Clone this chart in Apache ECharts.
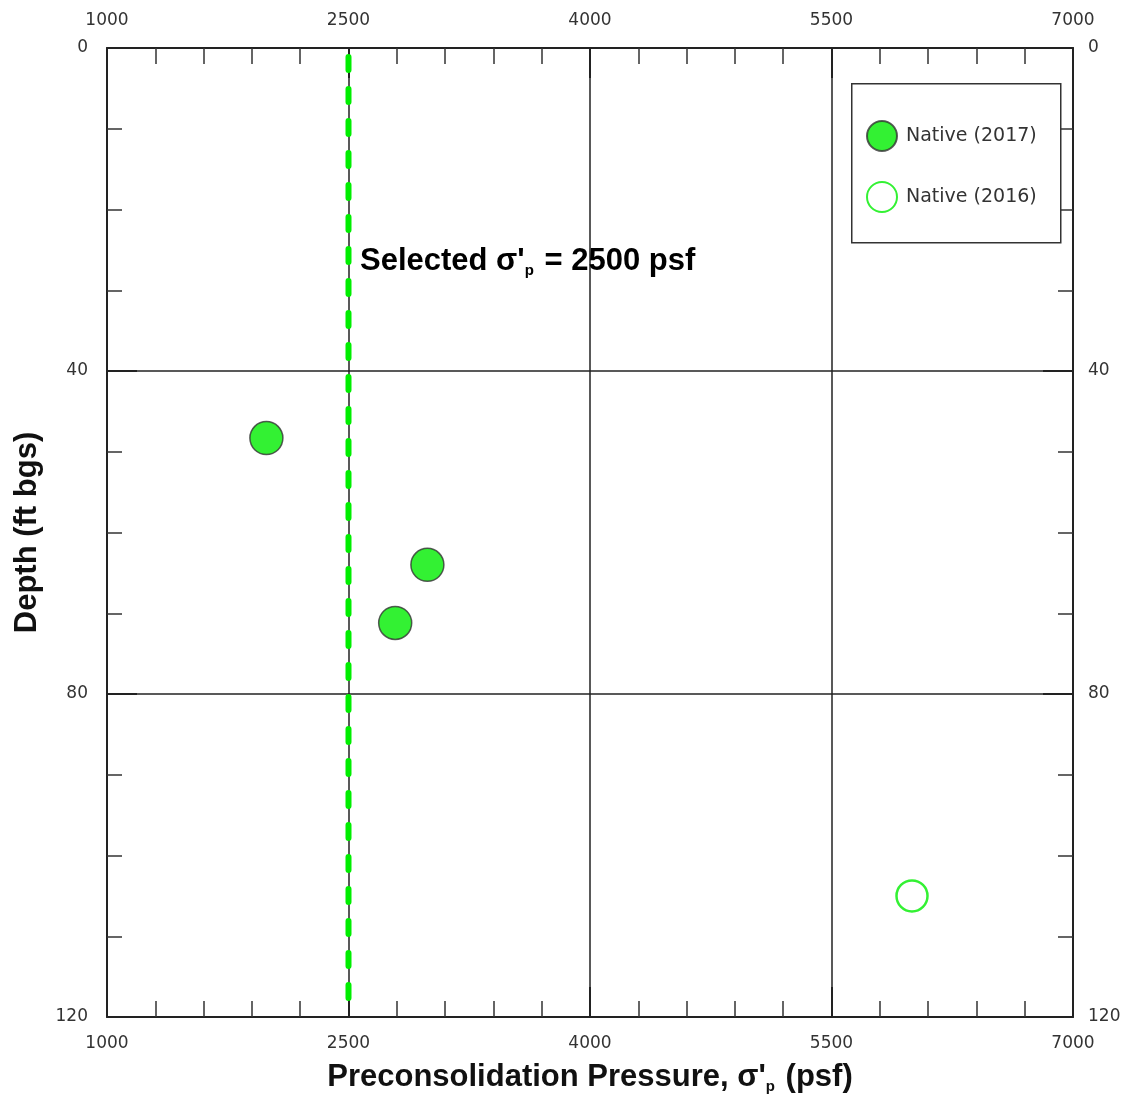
<!DOCTYPE html>
<html>
<head>
<meta charset="utf-8">
<script src="https://cdn.jsdelivr.net/npm/echarts@6/dist/echarts.min.js"></script>
<style>
  html, body { margin: 0; padding: 0; background: #ffffff; }
  #chart { width: 1128px; height: 1099px; }
</style>
</head>
<body>
<div id="chart"></div>
<script>
// Preconsolidation pressure (psf) against depth (ft bgs)
const native2017Pressure = [1990, 2990, 2790];
const native2017Depth = [48.3, 64.0, 71.2];
const native2016Pressure = [6000];
const native2016Depth = [105.0];

// Selected design value, drawn as a vertical dashed reference line
const selectedPressure = 2500;
const selectedDepthRange = [1.1, 119];

const pressureTicks = [1000, 2500, 4000, 5500, 7000];
const depthTicks = [0, 40, 80, 120];

const seriesNames = ['Native (2017)', 'Native (2016)'];

const GREEN = '#00ee00';
const LABEL_FONT = 'DejaVu Sans';
const TITLE_FONT = 'Liberation Sans';

const toPairs = (xs, ys) => xs.map((x, i) => [x, ys[i]]);
const plain = v => String(v);

const chart = echarts.init(document.getElementById('chart'), null, { renderer: 'canvas' });

const xCommon = {
  type: 'value',
  min: pressureTicks[0],
  max: pressureTicks[pressureTicks.length - 1],
  interval: pressureTicks[1] - pressureTicks[0],
  axisLine: { show: true, onZero: false, lineStyle: { color: '#222', width: 2 } },
  axisTick: { show: true, inside: true, length: 30, lineStyle: { color: '#222', width: 2 } },
  minorTick: { show: true, splitNumber: 5, length: 16, lineStyle: { color: '#333', width: 1.5 } },
  axisLabel: { fontFamily: LABEL_FONT, fontSize: 17, color: '#333', margin: 18, formatter: plain }
};

const yCommon = {
  type: 'value',
  inverse: true,
  min: depthTicks[0],
  max: depthTicks[depthTicks.length - 1],
  interval: depthTicks[1] - depthTicks[0],
  axisLine: { show: true, onZero: false, lineStyle: { color: '#222', width: 2 } },
  axisTick: { show: true, inside: true, length: 30, lineStyle: { color: '#222', width: 2 } },
  minorTick: { show: true, splitNumber: 4, length: 15, lineStyle: { color: '#333', width: 1.5 } },
  axisLabel: { fontFamily: LABEL_FONT, fontSize: 17, color: '#333', formatter: plain }
};

const subRich = {
  b: { fontFamily: TITLE_FONT, fontWeight: 'bold', fontSize: 31, color: '#111', lineHeight: 34 },
  s: { fontFamily: TITLE_FONT, fontWeight: 'bold', fontSize: 15, color: '#111', lineHeight: 34, verticalAlign: 'bottom', padding: [12, 2, 0, 0] }
};

const option = {
  backgroundColor: '#ffffff',
  animation: false,
  grid: { left: 107, right: 55, top: 48, bottom: 79, containLabel: false },
  xAxis: [
    Object.assign({}, xCommon, {
      position: 'bottom',
      splitLine: { show: true, lineStyle: { color: '#222', width: 1.5 } },
      name: "{b|Preconsolidation Pressure, σ'}{s|p}{b| (psf)}",
      nameLocation: 'middle',
      nameGap: 43,
      nameTextStyle: { rich: subRich }
    }),
    Object.assign({}, xCommon, {
      position: 'top',
      splitLine: { show: false },
      axisLabel: Object.assign({}, xCommon.axisLabel, { margin: 19 })
    })
  ],
  yAxis: [
    Object.assign({}, yCommon, {
      position: 'left',
      splitLine: { show: true, lineStyle: { color: '#222', width: 1.5 } },
      axisLabel: Object.assign({}, yCommon.axisLabel, { margin: 19 }),
      name: 'Depth (ft bgs)',
      nameLocation: 'middle',
      nameRotate: 90,
      nameGap: 64,
      nameTextStyle: { fontFamily: TITLE_FONT, fontWeight: 'bold', fontSize: 31, color: '#111' }
    }),
    Object.assign({}, yCommon, {
      position: 'right',
      splitLine: { show: false },
      axisLabel: Object.assign({}, yCommon.axisLabel, { margin: 15 })
    })
  ],
  legend: {
    show: true,
    z: 20,
    data: seriesNames,
    orient: 'vertical',
    left: 866,
    top: 120,
    padding: 0,
    itemWidth: 30,
    itemHeight: 30,
    itemGap: 29,
    icon: 'circle',
    textStyle: { fontFamily: LABEL_FONT, fontSize: 19, color: '#333', padding: [0, 0, 0, 4] }
  },
  graphic: [
    {
      type: 'rect',
      left: 851,
      top: 83,
      z: 1,
      shape: { width: 209, height: 159 },
      style: { fill: '#ffffff', stroke: '#333', lineWidth: 1.5 }
    },
    {
      type: 'text',
      left: 360,
      top: 246,
      z: 10,
      style: {
        text: "{b|Selected σ'}{s|p}{b| = 2500 psf}",
        rich: subRich
      }
    }
  ],
  series: [
    {
      name: 'Selected',
      type: 'line',
      xAxisIndex: 0,
      yAxisIndex: 0,
      symbol: 'none',
      data: selectedDepthRange.map(d => [selectedPressure, d]),
      lineStyle: { color: GREEN, width: 6, type: [13, 19], cap: 'round' },
      z: 3
    },
    {
      name: seriesNames[0],
      type: 'scatter',
      xAxisIndex: 0,
      yAxisIndex: 0,
      symbol: 'circle',
      symbolSize: 33,
      data: toPairs(native2017Pressure, native2017Depth),
      itemStyle: { color: GREEN, borderColor: '#333', borderWidth: 1.5 },
      z: 4
    },
    {
      name: seriesNames[1],
      type: 'scatter',
      xAxisIndex: 0,
      yAxisIndex: 0,
      symbol: 'circle',
      symbolSize: 31,
      data: toPairs(native2016Pressure, native2016Depth),
      itemStyle: { color: 'rgba(255,255,255,0)', borderColor: GREEN, borderWidth: 2.5 },
      z: 4
    }
  ]
};

chart.setOption(option);
</script>
</body>
</html>
